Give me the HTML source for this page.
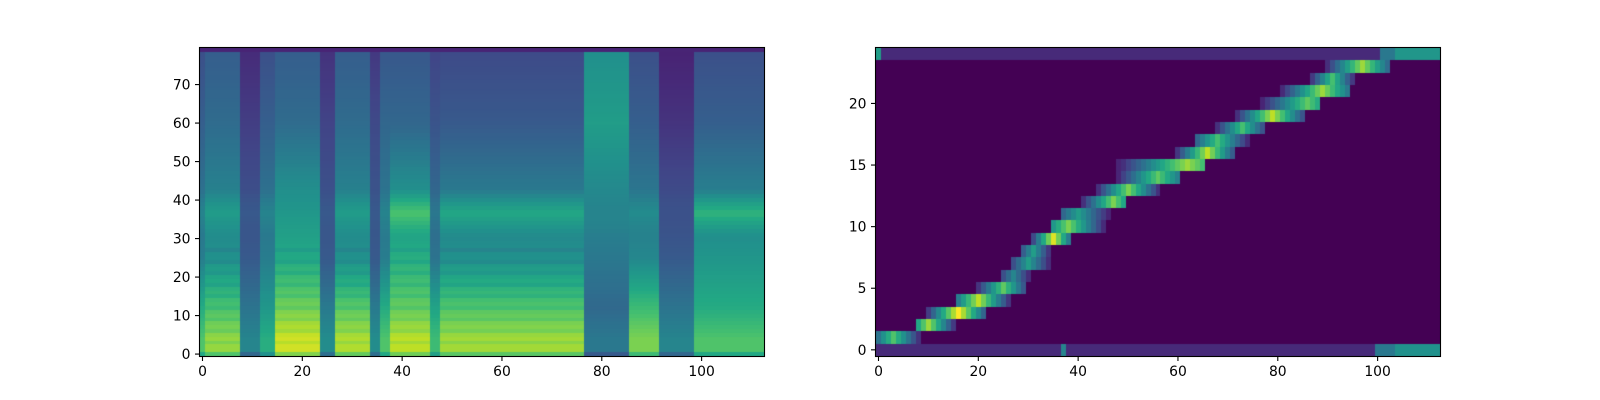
<!DOCTYPE html>
<html><head><meta charset="utf-8">
<style>
html,body{margin:0;padding:0;background:#fff;width:1600px;height:400px;overflow:hidden;font-family:"DejaVu Sans","Liberation Sans",sans-serif;}
#wrap{position:relative;width:1600px;height:400px;overflow:hidden;}
canvas{position:absolute;display:block;}
#fig{position:absolute;left:0;top:0;display:block;}
</style></head>
<body>
<div id="wrap">
<canvas id="c1" width="564" height="308" style="left:200px;top:48px"></canvas>
<canvas id="c2" width="564" height="308" style="left:876px;top:48px"></canvas>
<svg id="fig" width="1600" height="400" viewBox="0 0 1600 400" xmlns="http://www.w3.org/2000/svg">
<g id="axes"></g>
</svg>
</div>
<script>
// ---- spectrogram data (viridis level per column segment for low / mid / high frequency bands)
const specSegments = [[0,0],[1,7],[8,11],[12,14],[15,23],[24,26],[27,33],[34,35],[36,37],[38,45],[46,47],[48,76],[77,85],[86,91],[92,98],[99,112]];
const specLow  = [0.72,0.84,0.45,0.62,0.93,0.48,0.88,0.48,0.72,0.9,0.68,0.86,0.4,0.8,0.45,0.72];
const specMid  = [0.42,0.5,0.28,0.42,0.6,0.28,0.5,0.28,0.42,0.62,0.38,0.5,0.4,0.46,0.28,0.52];
const specFormant = [0.45,0.55,0.28,0.45,0.5,0.28,0.55,0.28,0.45,0.72,0.4,0.6,0.45,0.48,0.25,0.65];
const specHigh = [0.3,0.35,0.18,0.3,0.35,0.2,0.35,0.22,0.33,0.33,0.26,0.28,0.55,0.3,0.15,0.3];
const specHarm = [0,1,0,0,1,0,1,0,0,1,0,1,0,0,0,0];
// ---- attention data: per encoder row, start col, end col, peak col, peak value
const attRows  = [1,2,3,4,5,6,7,8,9,10,11,12,13,14,15,16,17,18,19,20,21,22,23];
const attStart = [0,8,10,16,20,25,27,29,31,35,37,41,44,48,48,60,64,68,72,77,81,87,90];
const attEnd   = [8,15,21,26,29,30,34,34,38,45,46,49,56,60,65,71,74,77,85,88,94,95,102];
const attPeak  = [3,10,16,20,25,27,30,31,35,38,40,47,50,56,62,66,68,73,79,86,89,91,97];
const attValue = [0.72,0.85,1.0,0.9,0.75,0.45,0.55,0.55,0.95,0.8,0.55,0.8,0.8,0.75,0.85,0.9,0.7,0.7,0.9,0.75,0.85,0.7,0.85];
const xTicks = [0,20,40,60,80,100];
const yTicksL = [0,10,20,30,40,50,60,70];
const yTicksR = [0,5,10,15,20];

const VIR=["#440154","#482475","#414487","#355f8d","#2a788e","#21918c","#22a884","#44bf70","#7ad151","#bddf26","#fde725"];
function hex(h){return [parseInt(h.substr(1,2),16),parseInt(h.substr(3,2),16),parseInt(h.substr(5,2),16)];}
const VR=VIR.map(hex);
function vir(v){v=Math.max(0,Math.min(1,v));const f=v*10,i=Math.min(9,Math.floor(f)),t=f-i;const a=VR[i],b=VR[i+1];
 return `rgb(${Math.round(a[0]+(b[0]-a[0])*t)},${Math.round(a[1]+(b[1]-a[1])*t)},${Math.round(a[2]+(b[2]-a[2])*t)})`;}

const NC=113, W=564, H=308, TOP=48;
function xs(c){return (c+0.5)*W/NC;}
function cx(c){return Math.round(c*W/NC);}
// spectrogram
(function(){
 const ctx=document.getElementById('c1').getContext('2d');
 const NR=80, rh=H/NR;
 for(let c=0;c<NC;c++){
  let s=0; for(let k=0;k<specSegments.length;k++){if(c>=specSegments[k][0]&&c<=specSegments[k][1])s=k;}
  const lo=specLow[s],mi=specMid[s],hi=specHigh[s],fo=specFormant[s];
  for(let r=0;r<NR;r++){
   let v;
   if(r<=4) v=lo-(r===0?0.12:0);
   else if(r<=12) v=lo+(lo*0.85-lo)*(r-4)/8;
   else if(r<=25) v=lo*0.85+(mi-lo*0.85)*(r-12)/13;
   else if(r<=45) v=mi+(((mi+hi)/2)-mi)*(r-25)/20;
   else if(r<=60) v=(mi+hi)/2+(hi-(mi+hi)/2)*(r-45)/15;
   else v=hi-(r-60)*0.003;
   if(r>=31 && r<=42){const w=1-Math.abs(r-36.5)/6; v=Math.max(v, v+(fo-v)*w);}
   if(r===79) v=0.1;
   if(specHarm[s] && r>=1 && r<28 && r%3===0) v-=0.04;
   ctx.fillStyle=vir(v);
   const y0=Math.round(H-(r+1)*rh), y1=Math.round(H-r*rh);
   ctx.fillRect(cx(c),y0,cx(c+1)-cx(c),y1-y0);
  }
 }
})();
// attention
(function(){
 const ctx=document.getElementById('c2').getContext('2d');
 const NR=25, rh=H/NR;
 ctx.fillStyle=vir(0);ctx.fillRect(0,0,W,H);
 function cell(c,r,v){ctx.fillStyle=vir(v);const y0=Math.round(H-(r+1)*rh), y1=Math.round(H-r*rh);ctx.fillRect(cx(c),y0,cx(c+1)-cx(c),y1-y0);}
 for(let c=0;c<NC;c++){
  let v0=0.12, v24=0.12;
  if(c>=100) v0=0.4; if(c>=104) v0=0.5; if(c===37) v0=0.45;
  if(c>=101) v24=0.4; if(c>=104) v24=0.52; if(c===0) v24=0.55;
  cell(c,0,v0); cell(c,24,v24);
 }
 for(let i=0;i<attRows.length;i++){
  const r=attRows[i];
  const hw=Math.max(attPeak[i]-attStart[i],attEnd[i]-attPeak[i])+1;
  for(let c=attStart[i];c<=attEnd[i];c++){
   const d=Math.abs(c-attPeak[i])/hw;
   const v=Math.max(0.1,attValue[i]*Math.pow(1-d,0.9));
   cell(c,r,v);
  }
 }
})();
// axes
const NS="http://www.w3.org/2000/svg";
const g=document.getElementById('axes');
function el(t,a){const e=document.createElementNS(NS,t);for(const k in a)e.setAttribute(k,a[k]);g.appendChild(e);return e;}
function drawAxes(x0,nr,yt,prefix){
 const fr=el('rect',{x:x0-0.5,y:TOP-0.5,width:W+1,height:H+1,fill:'none',stroke:'#000','stroke-width':1.1});
 
 
 const yb=TOP+H;
 xTicks.forEach(t=>{
  const x=x0+xs(t);
  const l=el('line',{x1:x,y1:yb+0.5,x2:x,y2:yb+5,stroke:'#000','stroke-width':1.1});
  
  
  const tx=el('text',{x:x,y:yb+20,'font-size':13.9,'text-anchor':'middle',fill:'#000'});
  tx.textContent=t;
  
  
 });
 yt.forEach(t=>{
  const y=TOP+H-(t+0.5)*H/nr;
  const l=el('line',{x1:x0-5,y1:y,x2:x0-0.5,y2:y,stroke:'#000','stroke-width':1.1});
  
  
  const tx=el('text',{x:x0-9.5,y:y+5,'font-size':13.9,'text-anchor':'end',fill:'#000'});
  tx.textContent=t;
  
  
 });
}
drawAxes(200,80,yTicksL,'spectrogram');
drawAxes(876,25,yTicksR,'attention');
</script>
</body></html>
